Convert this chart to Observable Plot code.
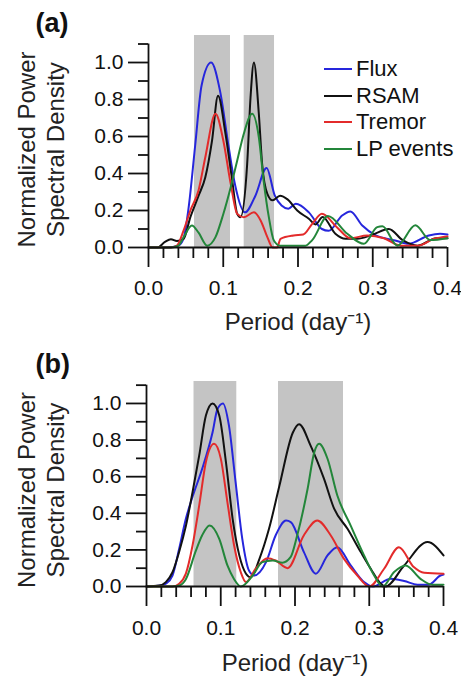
<!DOCTYPE html>
<html>
<head>
<meta charset="utf-8">
<script src="https://cdn.jsdelivr.net/npm/d3@7"></script>
<script src="https://cdn.jsdelivr.net/npm/@observablehq/plot@0.6"></script>
<style>
  body { margin: 0; background: #fff; }
  #wrap { position: relative; width: 461px; font-family: "Liberation Sans", Arial, sans-serif; }
  #wrap svg { display: block; }
  .legend { position: absolute; left: 324px; top: 56px; font-size: 22px; color: #111; line-height: 26.5px; }
  .legend div { display: flex; align-items: center; white-space: nowrap; }
  .legend span.sw { display: inline-block; width: 28px; height: 2px; margin-right: 4px; }
</style>
</head>
<body>
<div id="wrap"></div>
<script>
// ---------- data ----------
const seriesNames = ["Flux", "RSAM", "Tremor", "LP events"];
const seriesColors = ["#2626dc", "#111111", "#e32b2b", "#23863a"];

const xMajor = [0, 0.1, 0.2, 0.3, 0.4];
const xMinor = [0.02, 0.04, 0.06, 0.08, 0.12, 0.14, 0.16, 0.18, 0.22, 0.24, 0.26, 0.28, 0.32, 0.34, 0.36, 0.38];
const yMajor = [0, 0.2, 0.4, 0.6, 0.8, 1.0];
const yMinor = [0.1, 0.3, 0.5, 0.7, 0.9, 1.1];
const yAxisTop = 1.1;

// Panel (a)
const bandStartA = [0.0615, 0.128];
const bandEndA = [0.1097, 0.1686];

const fluxXA = [0, 0.025, 0.04, 0.047, 0.0535, 0.0624, 0.071, 0.0838, 0.096, 0.107, 0.116, 0.129, 0.143, 0.158, 0.169, 0.178, 0.187, 0.197, 0.2145, 0.232, 0.241, 0.259, 0.27, 0.286, 0.304, 0.33, 0.348, 0.375, 0.39, 0.4];
const fluxYA = [0, 0, 0.01, 0.05, 0.21, 0.55, 0.876, 1.0, 0.84, 0.55, 0.335, 0.19, 0.28, 0.43, 0.28, 0.227, 0.21, 0.236, 0.19, 0.1, 0.09, 0.173, 0.195, 0.119, 0.065, 0.038, 0.02, 0.065, 0.074, 0.07];

const rsamXA = [0, 0.012, 0.022, 0.03, 0.038, 0.047, 0.056, 0.067, 0.076, 0.085, 0.093, 0.103, 0.112, 0.1187, 0.123, 0.132, 0.1365, 0.141, 0.1476, 0.152, 0.159, 0.166, 0.176, 0.186, 0.199, 0.2145, 0.2234, 0.233, 0.25, 0.2635, 0.279, 0.3, 0.3215, 0.34, 0.36, 0.385, 0.4];
const rsamYA = [0, 0, 0.03, 0.045, 0.035, 0.047, 0.164, 0.28, 0.38, 0.578, 0.82, 0.615, 0.362, 0.182, 0.164, 0.452, 0.812, 1.0, 0.723, 0.452, 0.29, 0.255, 0.28, 0.26, 0.2, 0.155, 0.125, 0.165, 0.074, 0.047, 0.047, 0.07, 0.1, 0.04, 0.01, 0.05, 0.05];

const tremorXA = [0, 0.03, 0.038, 0.047, 0.056, 0.067, 0.076, 0.0896, 0.1, 0.11, 0.1187, 0.1275, 0.141, 0.15, 0.159, 0.166, 0.172, 0.1766, 0.194, 0.207, 0.219, 0.232, 0.252, 0.27, 0.2926, 0.315, 0.337, 0.36, 0.382, 0.4];
const tremorYA = [0, 0, 0.01, 0.092, 0.2, 0.31, 0.488, 0.723, 0.58, 0.344, 0.182, 0.164, 0.19, 0.146, 0.056, 0.0, 0.0, 0.047, 0.065, 0.07, 0.128, 0.182, 0.11, 0.05, 0.065, 0.05, 0.01, 0.01, 0.047, 0.06];

const lpXA = [0, 0.03, 0.04, 0.047, 0.058, 0.067, 0.0785, 0.0896, 0.1, 0.11, 0.1187, 0.1275, 0.1387, 0.1476, 0.154, 0.161, 0.1677, 0.176, 0.21, 0.219, 0.24, 0.266, 0.288, 0.306, 0.313, 0.333, 0.357, 0.377, 0.4];
const lpYA = [0, 0, 0.01, 0.056, 0.119, 0.08, 0.01, 0.056, 0.18, 0.326, 0.47, 0.615, 0.723, 0.596, 0.362, 0.164, 0.038, 0.01, 0.01, 0.04, 0.17, 0.074, 0.02, 0.11, 0.115, 0.01, 0.12, 0.04, 0.05];

// Panel (b)
const bandStartB = [0.064, 0.1778];
const bandEndB = [0.1216, 0.2653];

const fluxXB = [0, 0.02, 0.026, 0.035, 0.044, 0.053, 0.062, 0.075, 0.089, 0.0956, 0.103, 0.111, 0.12, 0.129, 0.138, 0.145, 0.161, 0.174, 0.188, 0.1943, 0.212, 0.228, 0.2438, 0.257, 0.275, 0.293, 0.305, 0.329, 0.347, 0.365, 0.38, 0.396, 0.4];
const fluxYB = [0, 0.005, 0.015, 0.06, 0.206, 0.37, 0.49, 0.643, 0.843, 0.97, 1.0, 0.88, 0.57, 0.26, 0.087, 0.06, 0.133, 0.28, 0.36, 0.352, 0.188, 0.07, 0.17, 0.215, 0.115, 0.024, 0.0, 0.042, 0.03, 0.01, 0.01, 0.06, 0.065];

const rsamXB = [0, 0.017, 0.026, 0.035, 0.044, 0.053, 0.062, 0.071, 0.08, 0.089, 0.098, 0.107, 0.116, 0.125, 0.134, 0.1405, 0.152, 0.165, 0.179, 0.197, 0.2055, 0.221, 0.239, 0.2527, 0.2707, 0.2886, 0.302, 0.3156, 0.322, 0.347, 0.3785, 0.4];
const rsamYB = [0, 0.005, 0.024, 0.078, 0.19, 0.33, 0.515, 0.716, 0.934, 1.0, 0.934, 0.68, 0.37, 0.17, 0.07, 0.05, 0.15, 0.315, 0.55, 0.84, 0.887, 0.77, 0.589, 0.425, 0.315, 0.188, 0.097, 0.015, 0.0, 0.115, 0.243, 0.17];

const tremorXB = [0, 0.035, 0.044, 0.053, 0.062, 0.071, 0.08, 0.091, 0.1, 0.109, 0.118, 0.127, 0.134, 0.147, 0.163, 0.174, 0.19, 0.212, 0.23, 0.248, 0.266, 0.284, 0.3, 0.32, 0.34, 0.36, 0.374, 0.4];
const tremorYB = [0, 0, 0.015, 0.07, 0.224, 0.443, 0.68, 0.78, 0.7, 0.46, 0.224, 0.078, 0.024, 0.097, 0.155, 0.142, 0.1, 0.28, 0.36, 0.28, 0.151, 0.06, 0.0, 0.097, 0.215, 0.106, 0.075, 0.07];

const lpXB = [0, 0.035, 0.044, 0.053, 0.066, 0.075, 0.085, 0.098, 0.109, 0.118, 0.127, 0.143, 0.156, 0.17, 0.183, 0.194, 0.203, 0.217, 0.226, 0.2325, 0.2438, 0.257, 0.275, 0.293, 0.3066, 0.318, 0.3335, 0.349, 0.369, 0.385, 0.4];
const lpYB = [0, 0, 0.005, 0.04, 0.19, 0.28, 0.333, 0.26, 0.115, 0.04, 0.0, 0.06, 0.133, 0.142, 0.13, 0.16, 0.28, 0.534, 0.734, 0.78, 0.698, 0.497, 0.333, 0.17, 0.06, 0.0, 0.079, 0.115, 0.042, 0.01, 0.01];

// ---------- build ----------
function pairs(xs, ys) { return xs.map((x, i) => ({x, y: ys[i]})); }

function panel(cfg) {
  const bands = cfg.bandStart.map((s, i) => ({start: s, end: cfg.bandEnd[i]}));
  const lines = cfg.series.map((s, i) =>
    Plot.line(pairs(s[0], s[1]), {x: "x", y: "y", stroke: seriesColors[i], strokeWidth: 2, curve: "monotone-x"}));
  return Plot.plot({
    width: 461,
    height: cfg.height,
    marginLeft: cfg.ml, marginRight: cfg.mr, marginTop: cfg.mt, marginBottom: cfg.mb,
    style: {fontFamily: "'Liberation Sans', Arial, sans-serif", color: "#111", background: "white", overflow: "visible"},
    x: {domain: [0, 0.4], label: null},
    y: {domain: [0, cfg.yTop], label: null},
    marks: [
      Plot.rect(bands, {x1: "start", x2: "end", fill: "#c4c4c4"}),
      ...lines,
      Plot.ruleX([0], {y1: 0, y2: yAxisTop, stroke: "#111", strokeWidth: 1.8}),
      Plot.ruleY([0], {x1: 0, x2: 0.4, stroke: "#111", strokeWidth: 1.8}),
      Plot.axisY(yMajor, {tickSize: 20, tickPadding: 5, strokeWidth: 1.8, fontSize: 21, tickFormat: d => d.toFixed(1), label: null}),
      Plot.axisY(yMinor, {tickSize: 10, strokeWidth: 1.8, tickFormat: () => "", label: null}),
      Plot.axisX(xMajor, {tickSize: 20, tickPadding: cfg.xpad, strokeWidth: 1.8, fontSize: 21, tickFormat: d => d.toFixed(1), label: null}),
      Plot.axisX(xMinor, {tickSize: 11, strokeWidth: 1.8, tickFormat: () => "", label: null}),
      Plot.text([cfg.letter], {frameAnchor: "top-left", dx: cfg.letterDx, dy: cfg.letterDy, textAnchor: "start", lineAnchor: "top", fontSize: 27, fontWeight: "bold", fill: "#111"}),
      Plot.text(["Normalized Power\nSpectral Density"], {frameAnchor: "left", textAnchor: "middle", rotate: -90, dx: cfg.ytDx, dy: cfg.ytDy, lineHeight: 1.2, fontSize: 24, fill: "#222", lineAnchor: "middle"}),
      Plot.text(["Period (day⁻¹)"], {frameAnchor: "bottom", dy: cfg.xtDy, lineAnchor: "middle", fontSize: 24, fill: "#222"})
    ]
  });
}

const wrap = document.getElementById("wrap");
wrap.appendChild(panel({
  height: 340, ml: 148, mr: 14, mt: 35, mb: 93, yTop: 1.146, xpad: 13,
  bandStart: bandStartA, bandEnd: bandEndA,
  series: [[fluxXA, fluxYA], [rsamXA, rsamYA], [tremorXA, tremorYA], [lpXA, lpYA]],
  letter: "(a)", letterDx: -113, letterDy: -23,
  ytDx: -108, ytDy: 8, xtDy: 75
}));
wrap.appendChild(panel({
  height: 339, ml: 146, mr: 18, mt: 41, mb: 93, yTop: 1.12, xpad: 14,
  bandStart: bandStartB, bandEnd: bandEndB,
  series: [[fluxXB, fluxYB], [rsamXB, rsamYB], [tremorXB, tremorYB], [lpXB, lpYB]],
  letter: "(b)", letterDx: -111, letterDy: -28,
  ytDx: -106, ytDy: 6, xtDy: 77
}));

const legend = document.createElement("div");
legend.className = "legend";
seriesNames.forEach((name, i) => {
  const row = document.createElement("div");
  const sw = document.createElement("span");
  sw.className = "sw";
  sw.style.background = seriesColors[i];
  row.appendChild(sw);
  row.appendChild(document.createTextNode(name));
  legend.appendChild(row);
});
wrap.appendChild(legend);
</script>
</body>
</html>
